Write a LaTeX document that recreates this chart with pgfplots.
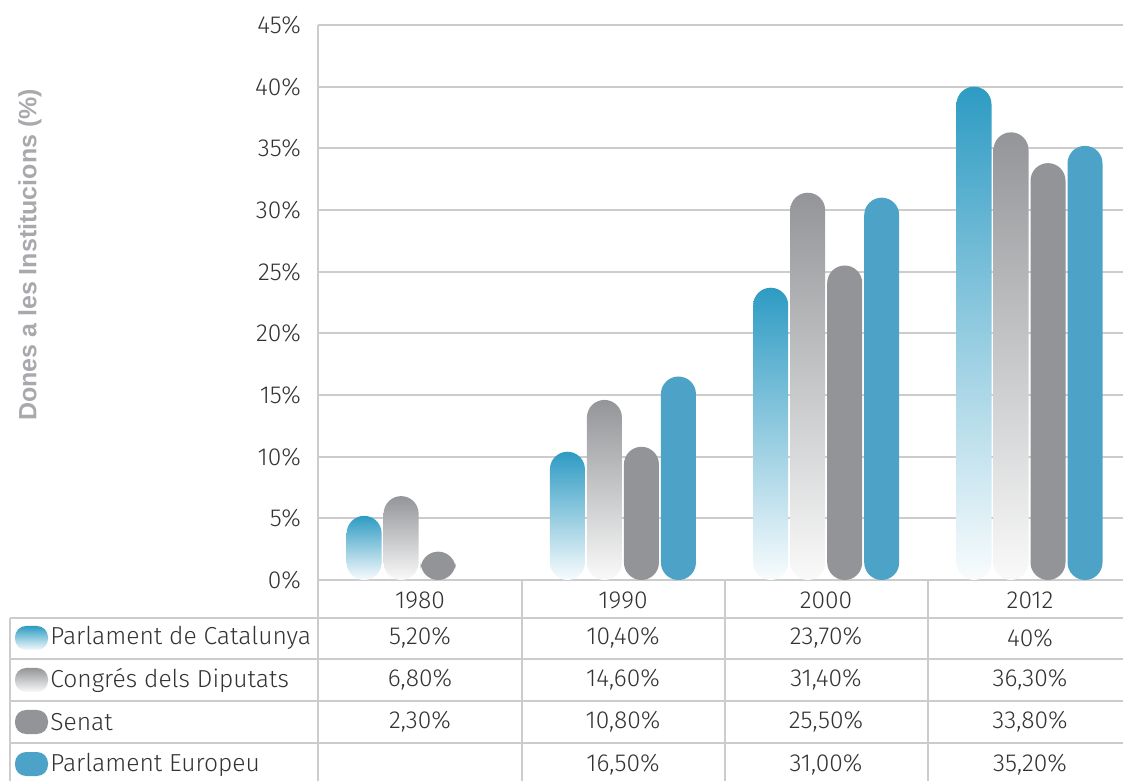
\documentclass[border=0pt]{standalone}
\usepackage{pgfplots}
\pgfplotsset{compat=1.18}
\usepackage{fontspec}
\setmainfont{Fira Sans}[UprightFont=* Light]
\newfontfamily\labelfont{Liberation Sans}
\definecolor{catblue}{HTML}{2E9BC3}
\definecolor{eublue}{HTML}{4DA3C7}
\definecolor{senat}{HTML}{929497}
\definecolor{congres}{HTML}{939598}
\definecolor{gridgray}{HTML}{CCCCCC}
\definecolor{txt}{HTML}{333333}
\definecolor{lblgray}{HTML}{A7A9AC}

% one style per institution; every bar is its own plot so the gradient runs per bar
\pgfplotsset{
  cat/.style={ybar, bar shift=-27.75pt, draw=none, top color=catblue, bottom color=catblue!3, rounded corners=8.75pt},
  con/.style={ybar, bar shift=-9.25pt, draw=none, top color=congres, bottom color=congres!5, rounded corners=8.75pt},
  sen/.style={ybar, bar shift=9.25pt, draw=none, fill=senat, rounded corners=8.75pt},
  eur/.style={ybar, bar shift=27.75pt, draw=none, fill=eublue, rounded corners=8.75pt},
}

\begin{document}
\begin{tikzpicture}
\useasboundingbox (0pt,0pt) rectangle (561.5pt,390.5pt);
\begin{axis}[
  anchor=south west, at={(159pt,100.5pt)},
  width=402.5pt, height=277.5pt, scale only axis,
  xmin=-0.5, xmax=3.46, ymin=0, ymax=45,
  bar width=17.5pt,
  axis x line*=bottom, axis y line*=left,
  axis line style={gridgray, line width=1pt, -},
  ymajorgrids, major grid style={gridgray, line width=1pt},
  xtick=\empty,
  ytick={0,5,...,45},
  yticklabels={0\%,5\%,10\%,15\%,20\%,25\%,30\%,35\%,40\%,45\%},
  yticklabel style={font=\fontsize{12.3}{14}\selectfont, text=txt, xshift=-5pt},
  major tick length=0pt,
  clip=false,
]
% Parlament de Catalunya
\addplot[cat] coordinates {(0,5.2)};
\addplot[cat] coordinates {(1,10.4)};
\addplot[cat] coordinates {(2,23.7)};
\addplot[cat] coordinates {(3,40)};
% Congres dels Diputats
\addplot[con] coordinates {(0,6.8)};
\addplot[con] coordinates {(1,14.6)};
\addplot[con] coordinates {(2,31.4)};
\addplot[con] coordinates {(3,36.3)};
% Senat
\addplot[sen] coordinates {(0,2.3) (1,10.8) (2,25.5) (3,33.8)};
% Parlament Europeu
\addplot[eur] coordinates {(1,16.5) (2,31.0) (3,35.2)};
\end{axis}

\node[rotate=90, text=lblgray, font=\labelfont\bfseries\fontsize{12.5}{14}\selectfont]
  at (15pt,263pt) {Dones a les Institucions (\%)};

\begin{scope}[x=0.5pt, y=-0.5pt, shift={(0pt,390.5pt)}]
  \begin{scope}[gridgray, line width=1pt]
    \draw (318,580) -- (318,781);
    \foreach \x in {522,725,928} \draw (\x,580) -- (\x,781);
    \draw (10,618) -- (10,781);
    \foreach \y in {618,659,701,743} \draw (10,\y) -- (1123,\y);
  \end{scope}
  \begin{scope}[every node/.style={text=txt, font=\fontsize{12.3}{14}\selectfont, inner sep=0pt}]
    \node at (420,600) {1980};
    \node at (623,600) {1990};
    \node at (826,600) {2000};
    \node at (1030,600) {2012};
    \node[anchor=west] at (50,638) {Parlament de Catalunya};
    \node[anchor=west] at (50,680) {Congrés dels Diputats};
    \node[anchor=west] at (50,722) {Senat};
    \node[anchor=west] at (50,765) {Parlament Europeu};
    \node at (420,638) {5,20\%};
    \node at (623,638) {10,40\%};
    \node at (826,638) {23,70\%};
    \node at (1030,638) {40\%};
    \node at (420,680) {6,80\%};
    \node at (623,680) {14,60\%};
    \node at (826,680) {31,40\%};
    \node at (1030,680) {36,30\%};
    \node at (420,722) {2,30\%};
    \node at (623,722) {10,80\%};
    \node at (826,722) {25,50\%};
    \node at (1030,722) {33,80\%};
    \node at (623,765) {16,50\%};
    \node at (826,765) {31,00\%};
    \node at (1030,765) {35,20\%};
  \end{scope}
  \shade[top color=catblue, bottom color=catblue!5, rounded corners=5.5pt] (15,626) rectangle (48,650);
  \shade[top color=congres, bottom color=congres!5, rounded corners=5.5pt] (15,668) rectangle (48,692);
  \fill[senat, rounded corners=5.5pt] (15,710) rectangle (48,734);
  \fill[eublue, rounded corners=5.5pt] (15,752) rectangle (48,776);
\end{scope}
\end{tikzpicture}
\end{document}
